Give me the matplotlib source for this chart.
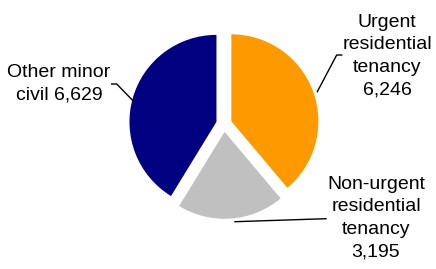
import matplotlib
matplotlib.use("Agg")
import matplotlib.pyplot as plt

categories = ["Urgent residential tenancy", "Non-urgent residential tenancy", "Other minor civil"]
values = [6246, 3195, 6629]
label_texts = ["Urgent\nresidential\ntenancy\n6,246",
               "Non-urgent\nresidential\ntenancy\n3,195",
               "Other minor\ncivil 6,629"]
colors = ["#FF9900", "#C0C0C0", "#000080"]

H = 269
R = 87
fig = plt.figure(figsize=(4.36, 2.69), dpi=100)
ax = fig.add_axes([0, 0, 1, 1])

ax.pie(values, colors=colors, startangle=90, counterclock=False,
       explode=[0.09 * R] * 3, radius=R, center=(224, H - 124),
       wedgeprops=dict(linewidth=0), frame=True)
ax.set_xlim(0, 436)
ax.set_ylim(0, H)
ax.set_aspect("equal")
ax.axis("off")

font = dict(family=["Liberation Sans", "DejaVu Sans"], fontsize=14,
            color="black", ha="center", linespacing=1.42)
# label placements (pixel coords, y measured from top)
ax.text(387, H - 56, label_texts[0], va="center", **font)
ax.text(376, H - 218, label_texts[1], va="center", **font)
ax.text(59, H - 84, label_texts[2], va="center", **font)

# leader lines
lw = 1.0
ax.plot([341.7, 336.7, 317.3], [H - 55, H - 55, H - 91.7], color="black", lw=lw)
ax.plot([111.7, 116.7, 132.3], [H - 84, H - 84, H - 100], color="black", lw=lw)
ax.plot([326, 235], [H - 218.7, H - 221.7], color="black", lw=lw)

fig.savefig("out.png", dpi=100)
